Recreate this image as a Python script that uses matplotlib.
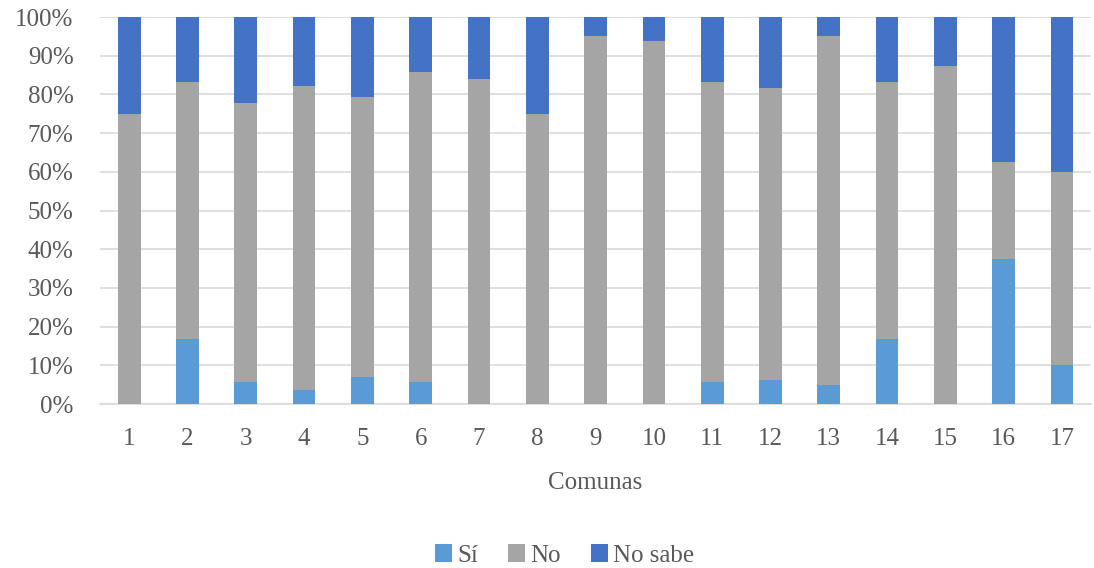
import matplotlib
matplotlib.use("Agg")
import matplotlib.pyplot as plt
import numpy as np
from matplotlib.ticker import PercentFormatter

comunas = [str(i) for i in range(1, 18)]
si = [0, 16.7, 5.6, 3.5, 6.9, 5.8, 0, 0, 0, 0, 5.6, 6.1, 4.8, 16.7, 0, 37.5, 10.0]
no_top = [75.0, 83.3, 77.8, 82.1, 79.3, 85.7, 84.0, 75.0, 95.0, 93.7,
          83.3, 81.7, 95.0, 83.3, 87.3, 62.5, 60.0]

si = np.array(si)
no = np.array(no_top) - si
no_sabe = 100 - np.array(no_top)

plt.rcParams["font.family"] = ["Liberation Serif", "DejaVu Serif"]
text_color = "#595959"
fs = 18

fig = plt.figure(figsize=(10.94, 5.68), dpi=100)
ax = fig.add_axes([0.0914, 0.2887, 0.906, 0.6813])

x = np.arange(len(comunas))
w = 0.39
ax.bar(x, si, w, color="#5B9BD5", label="Sí", zorder=3)
ax.bar(x, no, w, bottom=si, color="#A5A5A5", label="No", zorder=3)
ax.bar(x, no_sabe, w, bottom=si + no, color="#4472C4", label="No sabe", zorder=3)

ax.set_xlim(-0.5, len(comunas) - 0.5)
ax.set_ylim(0, 100)
ax.set_yticks(np.arange(0, 101, 10))
ax.yaxis.set_major_formatter(PercentFormatter(decimals=0))
ax.set_xticks(x)
ax.set_xticklabels(comunas)
ax.grid(axis="y", color="#D9D9D9", linewidth=1.2, zorder=0)
for s in ["top", "right", "left"]:
    ax.spines[s].set_visible(False)
ax.spines["bottom"].set_color("#D9D9D9")
ax.spines["bottom"].set_linewidth(1.2)
ax.tick_params(length=0, labelsize=fs, colors=text_color)
ax.tick_params(axis="x", pad=17)
ax.tick_params(axis="y", pad=19)
ax.set_xlabel("Comunas", fontsize=fs, color=text_color, labelpad=16)

fig.legend(loc="center", bbox_to_anchor=(0.516, 0.022), ncol=3, frameon=False,
           fontsize=fs, labelcolor=text_color, handlelength=0.7, handleheight=0.7,
           handletextpad=0.2, columnspacing=1.2)

fig.savefig("out.png", dpi=100)
